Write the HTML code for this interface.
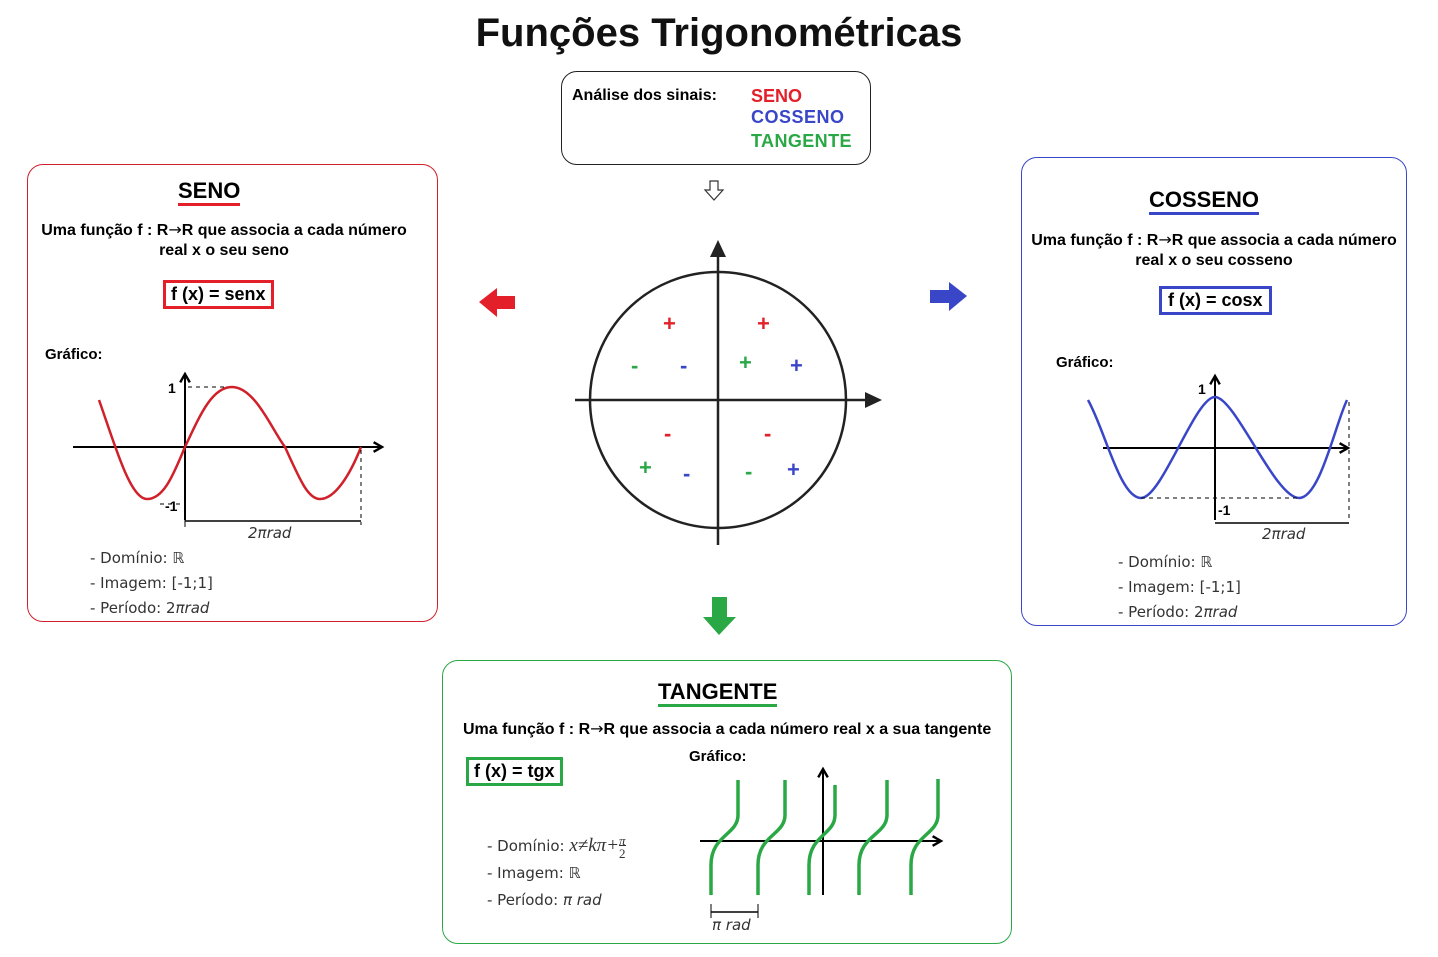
<!DOCTYPE html>
<html><head><meta charset="utf-8"><style>
body{margin:0;width:1438px;height:957px;background:#fff;position:relative;overflow:hidden;font-family:"Liberation Sans","DejaVu Sans",sans-serif}
.a{position:absolute;white-space:nowrap}
.b{font-weight:bold}
.box{position:absolute;border:1px solid;border-radius:16px;box-sizing:border-box}
.li{font-family:"DejaVu Sans",sans-serif;font-size:15px;color:#333}
.ar{font-family:"DejaVu Sans",sans-serif;font-weight:normal}
</style></head><body>
<div class="a b" style="left:0;width:1438px;text-align:center;top:11px;font-size:40px;color:#111">Funções Trigonométricas</div>

<div class="box" style="left:561px;top:71px;width:310px;height:94px;border-color:#222"></div>
<div class="a b" style="left:572px;top:87px;font-size:16px">Análise dos sinais:</div>
<div class="a b" style="left:751px;top:86px;font-size:18px;color:#e3202a">SENO</div>
<div class="a b" style="left:751px;top:107px;font-size:18px;color:#3a46c8;letter-spacing:0.5px">COSSENO</div>
<div class="a b" style="left:751px;top:131px;font-size:18px;color:#2aa845;letter-spacing:0.4px">TANGENTE</div>

<!-- Seno box -->
<div class="box" style="left:27px;top:164px;width:411px;height:458px;border-color:#d0202a"></div>
<div class="a b" style="left:178px;top:179px;font-size:22px;border-bottom:3px solid #e3202a;line-height:24px">SENO</div>
<div class="a b" style="left:34px;top:220px;width:380px;text-align:center;font-size:16px;line-height:20px;white-space:normal">Uma função f : R<span class="ar">→</span>R que associa a cada número real x o seu seno</div>
<div class="a b" style="left:163px;top:280px;font-size:18px;border:3px solid #e3202a;padding:1px 5px">f (x) = senx</div>
<div class="a b" style="left:45px;top:346px;font-size:15px">Gráfico:</div>
<div class="a li" style="left:90px;top:546px;line-height:25px">- Domínio: ℝ<br>- Imagem: [-1;1]<br>- Período: 2<i>πrad</i></div>
<div class="a li" style="left:248px;top:524px"><i>2πrad</i></div>

<!-- Cosseno box -->
<div class="box" style="left:1021px;top:157px;width:386px;height:469px;border-color:#3a46c8"></div>
<div class="a b" style="left:1149px;top:188px;font-size:22px;border-bottom:3px solid #3a46c8;line-height:24px">COSSENO</div>
<div class="a b" style="left:1024px;top:230px;width:380px;text-align:center;font-size:16px;line-height:20px;white-space:normal">Uma função f : R<span class="ar">→</span>R que associa a cada número real x o seu cosseno</div>
<div class="a b" style="left:1159px;top:286px;font-size:18px;border:3px solid #3a46c8;padding:1px 6px">f (x) = cosx</div>
<div class="a b" style="left:1056px;top:354px;font-size:15px">Gráfico:</div>
<div class="a li" style="left:1118px;top:550px;line-height:25px">- Domínio: ℝ<br>- Imagem: [-1;1]<br>- Período: 2<i>πrad</i></div>
<div class="a li" style="left:1262px;top:525px"><i>2πrad</i></div>

<!-- Tangente box -->
<div class="box" style="left:442px;top:660px;width:570px;height:284px;border-color:#2aa845"></div>
<div class="a b" style="left:658px;top:680px;font-size:22px;border-bottom:3px solid #2aa845;line-height:24px">TANGENTE</div>
<div class="a b" style="left:463px;top:719px;font-size:16px">Uma função f : R<span class="ar">→</span>R que associa a cada número real x a sua tangente</div>
<div class="a b" style="left:466px;top:757px;font-size:18px;border:3px solid #2aa845;padding:1px 5px">f (x) = tgx</div>
<div class="a b" style="left:689px;top:748px;font-size:15px">Gráfico:</div>
<div class="a li" style="left:487px;top:832px;line-height:27px">- Domínio: <i style="font-family:'Liberation Serif',serif;font-size:19px">x≠kπ+</i><span style="display:inline-block;vertical-align:middle;font-size:13px;text-align:center;line-height:13px;font-family:'Liberation Serif',serif"><i>π</i><br><span style="border-top:1px solid #333">2</span></span><br>- Imagem: ℝ<br>- Período: <i>π rad</i></div>
<div class="a li" style="left:712px;top:916px"><i>π rad</i></div>

<svg width="1438" height="957" style="position:absolute;left:0;top:0" fill="none">
<defs><marker id="ar" viewBox="0 0 10 10" refX="8" refY="5" markerWidth="6" markerHeight="6" orient="auto"><path d="M1 1L8 5L1 9" stroke="#000" stroke-width="2" fill="none"/></marker></defs>
<circle cx="718" cy="400" r="128" stroke="#222" stroke-width="2.5"/>
<line x1="575" y1="400" x2="868" y2="400" stroke="#222" stroke-width="2.5"/>
<path d="M865 392L882 400L865 408Z" fill="#222"/>
<line x1="718" y1="545" x2="718" y2="255" stroke="#222" stroke-width="2.5"/>
<path d="M710 257L718 240L726 257Z" fill="#222"/>
<g font-family="Liberation Sans" font-weight="bold" font-size="22">
<text x="663" y="331" fill="#e3202a">+</text><text x="757" y="331" fill="#e3202a">+</text>
<text x="631" y="373" fill="#2aa845">-</text><text x="680" y="373" fill="#3a46c8">-</text>
<text x="739" y="370" fill="#2aa845">+</text><text x="790" y="373" fill="#3a46c8">+</text>
<text x="664" y="441" fill="#e3202a">-</text><text x="764" y="441" fill="#e3202a">-</text>
<text x="639" y="475" fill="#2aa845">+</text><text x="683" y="481" fill="#3a46c8">-</text>
<text x="745" y="479" fill="#2aa845">-</text><text x="787" y="477" fill="#3a46c8">+</text>
</g>
<path d="M710 181h8v9h5l-9 10l-9-10h5z" stroke="#333" stroke-width="1.2" fill="#fff"/>
<path d="M479 302L497 288V296H515V309H497V317Z" fill="#e3202a"/>
<path d="M967 296L949 282V290H930V303H949V311Z" fill="#3a46c8"/>
<path d="M719 635L703 617H712V597H727V617H736Z" fill="#2aa845"/>
<g stroke="#000" stroke-width="2">
<line x1="73" y1="447" x2="382" y2="447" marker-end="url(#ar)"/>
<line x1="185" y1="520" x2="185" y2="374" marker-end="url(#ar)"/>
</g>
<path d="M99 400C115 445 130 499 147 499C165 499 175 470 185 447C200 415 212 387 232 387C255 387 272 430 285 447C300 480 308 499 320 499C335 499 350 475 361 447" stroke="#d0202a" stroke-width="2.5"/>
<g stroke="#000" stroke-width="1" stroke-dasharray="4 4"><line x1="188" y1="387" x2="225" y2="387"/><line x1="361" y1="450" x2="361" y2="525"/><line x1="160" y1="504" x2="183" y2="504"/></g>
<line x1="185" y1="521" x2="361" y2="521" stroke="#000" stroke-width="1.5"/>
<line x1="185" y1="515" x2="185" y2="527" stroke="#000"/>
<text x="168" y="393" font-family="Liberation Sans" font-weight="bold" font-size="14" fill="#000">1</text>
<text x="165" y="511" font-family="Liberation Sans" font-weight="bold" font-size="14" fill="#000">-1</text>
<g stroke="#000" stroke-width="2">
<line x1="1103" y1="448" x2="1348" y2="448" marker-end="url(#ar)"/>
<line x1="1215" y1="520" x2="1215" y2="376" marker-end="url(#ar)"/>
</g>
<path d="M1088 400C1105 430 1120 498 1141 498C1162 498 1195 397 1215 397C1235 397 1275 498 1299 498C1320 498 1335 425 1347 400" stroke="#3a46c8" stroke-width="2.5"/>
<g stroke="#000" stroke-width="1" stroke-dasharray="4 4"><line x1="1141" y1="498" x2="1299" y2="498"/><line x1="1349" y1="402" x2="1349" y2="520"/></g>
<line x1="1215" y1="523" x2="1349" y2="523" stroke="#000" stroke-width="1.5"/>
<text x="1198" y="394" font-family="Liberation Sans" font-weight="bold" font-size="14" fill="#000">1</text>
<text x="1218" y="515" font-family="Liberation Sans" font-weight="bold" font-size="14" fill="#000">-1</text>
<g stroke="#000" stroke-width="2">
<line x1="700" y1="841" x2="941" y2="841" marker-end="url(#ar)"/>
<line x1="823" y1="895" x2="823" y2="769" marker-end="url(#ar)"/>
</g>
<g stroke="#2aa845" stroke-width="3.5">
<path d="M711 895V865C711 835 738 835 738 815V780"/>
<path d="M758 895V865C758 835 785 835 785 815V780"/>
<path d="M809 895V865C809 835 835 835 835 815V785"/>
<path d="M859 895V865C859 835 887 835 887 815V780"/>
<path d="M911 895V865C911 835 938 835 938 815V779"/>
</g>
<line x1="711" y1="912" x2="758" y2="912" stroke="#000" stroke-width="1.5"/>
<line x1="711" y1="904" x2="711" y2="918" stroke="#000"/><line x1="758" y1="904" x2="758" y2="918" stroke="#000"/>
</svg>
</body></html>
